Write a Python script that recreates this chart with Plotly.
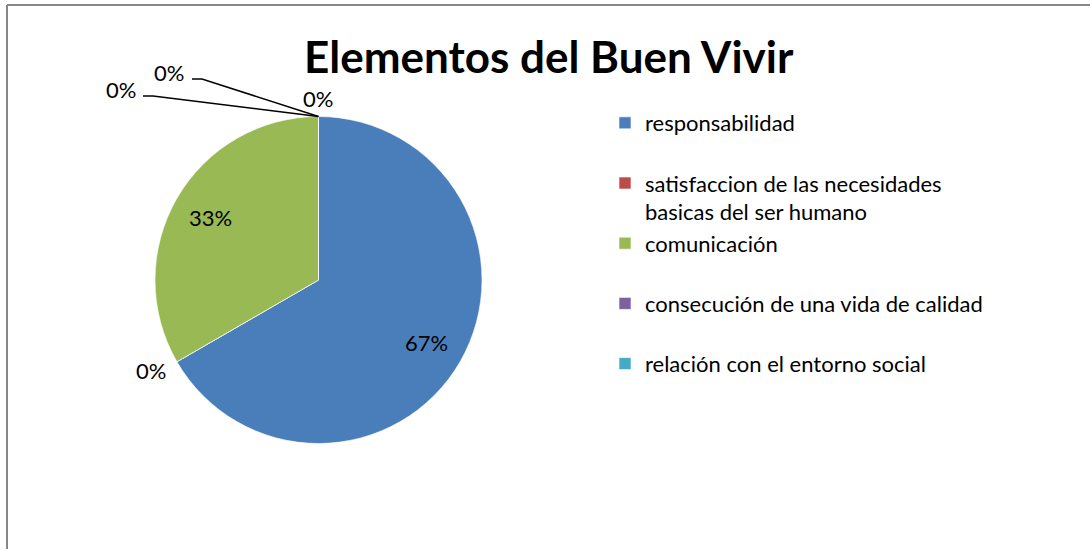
import math
import plotly.graph_objects as go

# ---- data ----
categories = [
    "responsabilidad",
    "satisfaccion de las necesidades basicas del ser humano",
    "comunicación",
    "consecución de una vida de calidad",
    "relación con el entorno social",
]
values = [2, 0, 1, 0, 0]
colors = ["#4A7EBB", "#BE4B48", "#98B954", "#7D60A0", "#46AAC5"]
title_text = "Elementos del Buen Vivir"

# legend labels (line-wrapped like the original legend)
legend_labels = [
    "responsabilidad<br>\u00a0",
    "satisfaccion de las necesidades<br>basicas del ser humano",
    "comunicación<br>\u00a0",
    "consecución de una vida de calidad<br>\u00a0",
    "relación con el entorno social",
]

W, H = 1090, 549
cx, cy, R = 318.5, 280.0, 163.5  # pie placement in pixels

FONT = "Lato"

fig = go.Figure()
fig.add_trace(go.Pie(
    labels=legend_labels,
    values=values,
    sort=False,
    direction="clockwise",
    rotation=0,
    marker=dict(colors=colors, line=dict(color="rgba(255,255,255,0.6)", width=1)),
    textinfo="none",
    hoverinfo="label+percent",
    domain=dict(x=[(cx - R) / W, (cx + R) / W], y=[1 - (cy + R) / H, 1 - (cy - R) / H]),
))


def px2paper(x, y):
    return x / W, 1 - y / H


def label(x, y, text, size=22):
    px, py = px2paper(x, y)
    return dict(x=px, y=py, xref="paper", yref="paper", text=text, showarrow=False,
                xanchor="center", yanchor="middle",
                font=dict(family=FONT, size=size, color="#000"))


annotations = []
total = sum(values)
cum = 0.0
for i, v in enumerate(values):
    a0 = cum / total * 360
    cum += v
    a1 = cum / total * 360
    mid = math.radians((a0 + a1) / 2)
    s, c = math.sin(mid), math.cos(mid)
    pct = f"{round(v / total * 100)}%"
    if i == 4:
        continue
    if v > 0:
        r = R * 0.76
        tx, ty = cx + r * s, cy - r * c
    else:
        # outside label box: gap beyond the rim plus half the text box
        tx = cx + (R + 8) * s + 22 * s
        ty = cy - (R + 8) * c - 10 * c
    annotations.append(label(tx, ty, pct))

# zero labels with leader lines (pointing to the top of the pie)
top_x, top_y = cx, cy - R
leader_labels = [(121, 89, 143, 153), (169, 72, 192, 202)]
shapes = []
for (lx, ly, l0, l1) in leader_labels:
    annotations.append(label(lx, ly, "0%"))
    lyy = ly + 7
    pts = [px2paper(l0, lyy), px2paper(l1, lyy), px2paper(top_x, top_y)]
    path = "M {} {} L {} {} L {} {}".format(pts[0][0], pts[0][1], pts[1][0], pts[1][1], pts[2][0], pts[2][1])
    shapes.append(dict(type="path", xref="paper", yref="paper", path=path,
                       line=dict(color="#000", width=1.5)))

# outer chart border (top and left edges visible)
bx0, by0 = px2paper(7, 5)
shapes.append(dict(type="line", xref="paper", yref="paper", x0=bx0, y0=by0, x1=1.0, y1=by0,
                   line=dict(color="#878787", width=2)))
shapes.append(dict(type="line", xref="paper", yref="paper", x0=bx0, y0=by0, x1=bx0, y1=0,
                   line=dict(color="#878787", width=2)))

annotations.append(label(549, 56, "<b>" + title_text + "</b>", size=44))

fig.update_layout(
    width=W, height=H,
    margin=dict(l=0, r=0, t=0, b=0),
    paper_bgcolor="white",
    plot_bgcolor="white",
    showlegend=True,
    legend=dict(x=605 / W, y=1 - 102 / H, xanchor="left", yanchor="top",
                font=dict(family=FONT, size=22, color="#000"), valign="top",
                bgcolor="rgba(0,0,0,0)", traceorder="normal"),
    annotations=annotations,
    shapes=shapes,
)

fig.write_html("out.html", config={"displayModeBar": False},
               post_script="document.body.style.margin='0px';")
